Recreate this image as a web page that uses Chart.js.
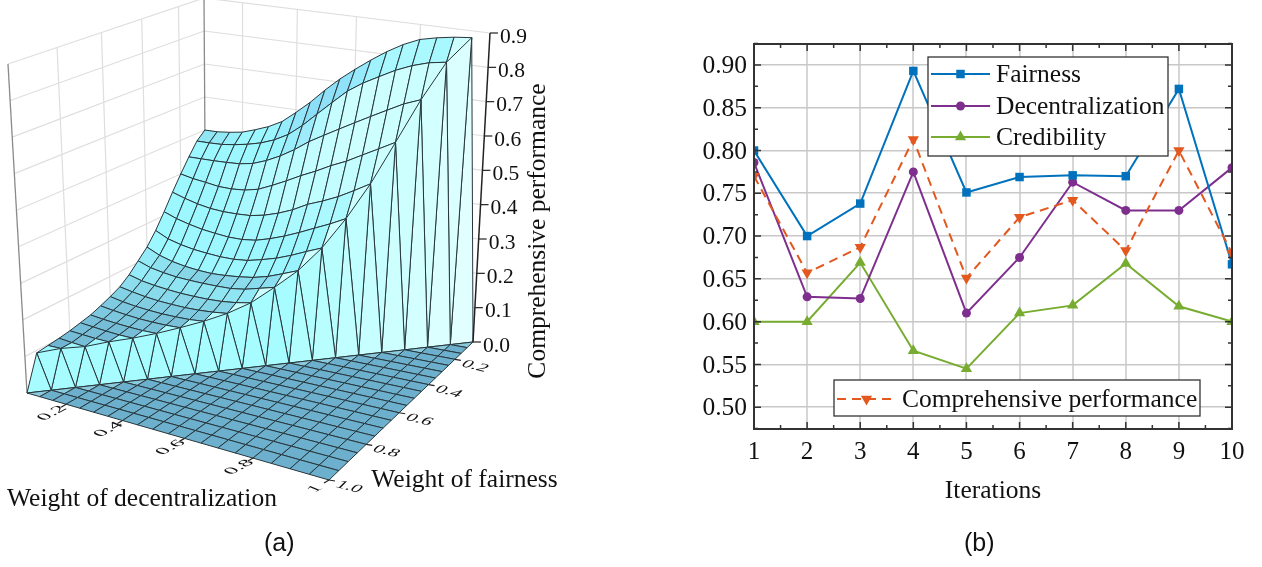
<!DOCTYPE html>
<html>
<head>
<meta charset="utf-8">
<script src="https://cdn.jsdelivr.net/npm/chart.js@4"></script>
<style>
  html, body { margin: 0; padding: 0; background: #fff; }
  body { position: relative; width: 1262px; height: 567px; overflow: hidden; }
  canvas { position: absolute; top: 0; }
  #surfaceChart { left: 0; }
  #lineChart { left: 650px; }
  .caption { position: absolute; top: 528px; font: 25px "Liberation Sans", sans-serif; color: #111; }
</style>
</head>
<body>
<canvas id="surfaceChart" width="620" height="567"></canvas>
<canvas id="lineChart" width="612" height="567"></canvas>
<div class="caption" style="left:264px">(a)</div>
<div class="caption" style="left:964px">(b)</div>
<script>
// panel (b) values
const iterations = ['1', '2', '3', '4', '5', '6', '7', '8', '9', '10'];
const fairness = [0.800, 0.700, 0.738, 0.893, 0.751, 0.769, 0.771, 0.770, 0.872, 0.667];
const decentralization = [0.786, 0.629, 0.627, 0.775, 0.610, 0.675, 0.763, 0.730, 0.730, 0.780];
const credibility = [0.600, 0.600, 0.669, 0.566, 0.545, 0.610, 0.619, 0.668, 0.618, 0.600];
const comprehensive = [0.770, 0.657, 0.687, 0.813, 0.651, 0.722, 0.742, 0.683, 0.800, 0.680];
const lineTicks = [0.50, 0.55, 0.60, 0.65, 0.70, 0.75, 0.80, 0.85, 0.90];

// panel (a) values: one row per fairness weight (0.05 .. 0.95), one column per decentralization weight
const weightStart = 0.05;
const weightStep = 0.05;
const surfaceRows = [
  [.500,.500,.504,.510,.523,.538,.559,.592,.628,.670,.709,.744,.777,.808,.835,.856,.867,.875,.880],
  [.477,.477,.478,.483,.490,.500,.515,.537,.570,.610,.650,.690,.720,.745,.770,.790,.805,.813],
  [.440,.440,.440,.441,.443,.450,.465,.485,.510,.540,.565,.590,.615,.640,.665,.690,.709],
  [.400,.392,.387,.381,.380,.383,.392,.410,.430,.452,.472,.495,.515,.540,.565,.591],
  [.357,.345,.335,.328,.325,.325,.327,.335,.348,.365,.388,.405,.425,.450,.477],
  [.311,.297,.287,.279,.274,.270,.270,.275,.287,.302,.320,.340,.360,.383],
  [.268,.250,.240,.233,.229,.226,.226,.230,.240,.252,.268,.287,.305],
  [.232,.215,.204,.197,.193,.191,.193,.197,.203,.214,.230,.247],
  [.205,.192,.185,.180,.178,.177,.177,.178,.184,.195,.206],
  [.178,.168,.162,.158,.155,.154,.154,.156,.161,.169],
  [.157,.150,.144,.140,.138,.137,.138,.141,.146],
  [.143,.136,.131,.128,.126,.126,.127,.131],
  [.131,.126,.122,.119,.118,.118,.120],
  [.120,.116,.113,.111,.110,.111],
  [.113,.110,.107,.105,.105],
  [.106,.104,.102,.102],
  [.101,.098,.096],
  [.097,.098],
  [.093]
];
const zTicks = [0.0, 0.1, 0.2, 0.3, 0.4, 0.5, 0.6, 0.7, 0.8, 0.9];
const decentralizationTicks = [0.2, 0.4, 0.6, 0.8, 1];
const fairnessTicks = [0.2, 0.4, 0.6, 0.8, 1.0];

const serif = '"Liberation Serif", serif';
const cells = 19;
const zMax = 0.9;

// camera: where the corners of the axis box land on the hidden scales
const floorCorners = { back: [206, 295], right: [473, 342], left: [27, 393], front: [329, 480] };
const topCorners = { back: [204, -2], right: [490, 33], left: [8, 64], front: [333, 128] };

function makeHomography(c) {
  const p00 = c.back, p10 = c.right, p01 = c.left, p11 = c.front;
  const dx1 = p10[0] - p11[0], dx2 = p01[0] - p11[0], sx = p00[0] - p10[0] + p11[0] - p01[0];
  const dy1 = p10[1] - p11[1], dy2 = p01[1] - p11[1], sy = p00[1] - p10[1] + p11[1] - p01[1];
  const den = dx1 * dy2 - dx2 * dy1;
  const g = (sx * dy2 - dx2 * sy) / den, h = (dx1 * sy - sx * dy1) / den;
  const a = p10[0] - p00[0] + g * p10[0], b = p01[0] - p00[0] + h * p01[0];
  const d = p10[1] - p00[1] + g * p10[1], e = p01[1] - p00[1] + h * p01[1];
  return (s, t) => {
    const w = g * s + h * t + 1;
    return [(a * s + b * t + p00[0]) / w, (d * s + e * t + p00[1]) / w];
  };
}
const floorMap = makeHomography(floorCorners);
const topMap = makeHomography(topCorners);

function project(s, t, z) {
  const lo = floorMap(s, t), hi = topMap(s, t), k = z / zMax;
  return { x: lo[0] + (hi[0] - lo[0]) * k, y: lo[1] + (hi[1] - lo[1]) * k };
}
function heightAt(i, j) {
  const row = surfaceRows[j];
  return row && row[i] !== undefined ? row[i] : 0;
}
function node(i, j) {
  return project(i / cells, j / cells, heightAt(i, j));
}
const weightToGrid = w => (w - weightStart) / weightStep / cells;

function mix(c1, c2, k) {
  k = Math.max(0, Math.min(1, k));
  return c1.map((v, n) => Math.round(v + (c2[n] - v) * k));
}
const rgb = c => `rgb(${c[0]},${c[1]},${c[2]})`;
const flatBlue = [109, 176, 206], cyan = [156, 247, 255], paleCyan = [205, 255, 255], skyBlue = [124, 203, 242];

function cellColor(i, j) {
  const fall = (heightAt(i, j) + heightAt(i + 1, j) - heightAt(i, j + 1) - heightAt(i + 1, j + 1)) / 2;
  const rise = (heightAt(i + 1, j) + heightAt(i + 1, j + 1) - heightAt(i, j) - heightAt(i, j + 1)) / 2;
  let c = fall < 0.03 ? mix(flatBlue, cyan, fall / 0.03) : mix(cyan, paleCyan, (fall - 0.05) / 0.05);
  c = mix(c, skyBlue, (rise - fall * 0.4) / 0.03);
  return rgb(c);
}

const meshLine = '#26363b';
const surfaceSets = [];
function addLine(points, color, width) {
  surfaceSets.push({ data: points, borderColor: color, borderWidth: width, showLine: true, fill: false,
    pointRadius: 0, clip: false, tension: 0 });
}
function addPolygon(points, color) {
  surfaceSets.push({ data: points.concat([points[0]]), borderColor: meshLine, borderWidth: 1, backgroundColor: color,
    showLine: true, fill: 'shape', pointRadius: 0, clip: false, tension: 0 });
}

// walls of the box
fairnessTicks.forEach(w => {
  if (w < 1) addLine([project(0, weightToGrid(w), 0), project(0, weightToGrid(w), zMax)], '#dedede', 1.2);
});
decentralizationTicks.forEach(w => {
  if (w < 1) addLine([project(weightToGrid(w), 0, 0), project(weightToGrid(w), 0, zMax)], '#dedede', 1.2);
});
zTicks.forEach(z => {
  addLine([project(0, 1, z), project(0, 0, z), project(1, 0, z)], '#dedede', 1.2);
});
addLine([project(0, 1, 0), project(0, 1, zMax)], '#8a8a8a', 1.3);
addLine([project(0, 0, 0), project(0, 0, zMax)], '#8a8a8a', 1.3);

// raised part of the surface, back to front
for (let sum = 0; sum <= 17; sum++) {
  for (let j = 0; j <= sum; j++) {
    const i = sum - j;
    addPolygon([node(i, j), node(i + 1, j), node(i + 1, j + 1), node(i, j + 1)], cellColor(i, j));
  }
}
// zig-zag side wall along the diagonal
function wallColor(i) {
  return rgb(i < 11 ? [166, 252, 255] : mix([178, 254, 255], [226, 255, 255], (i - 11) / 7));
}
for (let j = 0; j <= 18; j++) {
  const i = 18 - j;
  if (j > 0) addPolygon([node(i + 1, j - 1), node(i + 1, j), node(i, j)], wallColor(i));
  addPolygon([node(i, j), node(i + 1, j), node(i, j + 1)], wallColor(i));
}
// floor
for (let j = 0; j <= 18; j++) {
  const i = 18 - j;
  addPolygon([node(i + 1, j), node(i + 1, j + 1), node(i, j + 1)], '#8ccbdd');
}
for (let j = 1; j < cells; j++) {
  for (let i = cells - j; i < cells; i++) {
    addPolygon([node(i, j), node(i + 1, j), node(i + 1, j + 1), node(i, j + 1)], rgb(flatBlue));
  }
}
// box axis
addLine([project(1, 0, 0), project(1, 0, zMax)], '#222', 1.5);
surfaceSets.forEach((set, n) => { set.order = surfaceSets.length - n; });

const surfaceLabels = {
  id: 'surfaceLabels',
  afterDraw(chart) {
    const { ctx, scales: { x, y } } = chart;
    const px = p => [x.getPixelForValue(p.x), y.getPixelForValue(p.y)];
    ctx.save();
    ctx.fillStyle = '#111';
    ctx.strokeStyle = '#222';
    ctx.lineWidth = 1.2;

    // comprehensive performance ticks
    ctx.font = '21.5px ' + serif;
    ctx.textAlign = 'left';
    ctx.textBaseline = 'middle';
    zTicks.forEach(z => {
      const [a, b] = px(project(1, 0, z));
      ctx.beginPath();
      ctx.moveTo(a, b);
      ctx.lineTo(a + 8, b);
      ctx.stroke();
      ctx.fillText(z.toFixed(1), a + 10, b + 4);
    });

    // decentralization axis, label lies on the floor
    ctx.font = '20px ' + serif;
    ctx.textAlign = 'center';
    decentralizationTicks.forEach(w => {
      const [a, b] = px(project(weightToGrid(w), 1, 0));
      ctx.beginPath();
      ctx.moveTo(a, b);
      ctx.lineTo(a - 5, b + 3);
      ctx.stroke();
      ctx.save();
      ctx.transform(0.95, -0.5, 0.72, 0.3, a - 14, b + 9);
      ctx.fillText(String(w), 0, 0);
      ctx.restore();
    });
    // fairness axis
    fairnessTicks.forEach(w => {
      const [a, b] = px(project(1, weightToGrid(w), 0));
      ctx.beginPath();
      ctx.moveTo(a, b);
      ctx.lineTo(a + 6, b + 1);
      ctx.stroke();
      ctx.save();
      ctx.transform(0.98, 0.26, -0.5, 0.5, a + 20, b + 7);
      ctx.fillText(w.toFixed(1), 0, 0);
      ctx.restore();
    });

    // axis titles
    ctx.font = '25.5px ' + serif;
    ctx.textBaseline = 'alphabetic';
    ctx.fillText('Weight of decentralization', 142, 506);
    ctx.fillText('Weight of fairness', 464.5, 487);
    ctx.save();
    ctx.translate(545, 231);
    ctx.rotate(-Math.PI / 2);
    ctx.fillText('Comprehensive performance', 0, 0);
    ctx.restore();
    ctx.restore();
  }
};

new Chart(document.getElementById('surfaceChart'), {
  type: 'scatter',
  data: { datasets: surfaceSets },
  plugins: [surfaceLabels],
  options: {
    responsive: false,
    animation: false,
    events: [],
    layout: { padding: 0 },
    plugins: { legend: { display: false }, tooltip: { enabled: false } },
    scales: {
      x: { type: 'linear', display: false, min: 0, max: 620 },
      y: { type: 'linear', display: false, min: 0, max: 567, reverse: true }
    }
  }
});

// panel (b)
const legendGroups = [
  { box: [278, 57, 240, 99], rows: [[0, 74], [1, 106], [2, 137]], lineLeft: 281, lineRight: 340, textLeft: 346 },
  { box: [184, 380, 366, 36], rows: [[3, 399]], lineLeft: 187, lineRight: 246, textLeft: 252 }
];

const frameAndLegends = {
  id: 'frameAndLegends',
  afterDatasetsDraw(chart) {
    const { ctx, chartArea: { left, right, top, bottom }, scales: { x, y } } = chart;
    ctx.save();
    ctx.strokeStyle = '#333';
    ctx.lineWidth = 2;
    ctx.strokeRect(left, top, right - left, bottom - top);
    ctx.lineWidth = 1.5;
    ctx.beginPath();
    iterations.forEach((label, n) => {
      const major = x.getPixelForValue(n);
      ctx.moveTo(major, top); ctx.lineTo(major, top + 7);
      ctx.moveTo(major, bottom); ctx.lineTo(major, bottom - 7);
      if (n < iterations.length - 1) {
        const minor = (major + x.getPixelForValue(n + 1)) / 2;
        ctx.moveTo(minor, top); ctx.lineTo(minor, top + 4);
        ctx.moveTo(minor, bottom); ctx.lineTo(minor, bottom - 4);
      }
    });
    lineTicks.forEach(v => {
      const major = y.getPixelForValue(v);
      ctx.moveTo(left, major); ctx.lineTo(left + 7, major);
      ctx.moveTo(right, major); ctx.lineTo(right - 7, major);
      [v - 0.025, v + 0.025].forEach(m => {
        const minor = y.getPixelForValue(m);
        ctx.moveTo(left, minor); ctx.lineTo(left + 4, minor);
        ctx.moveTo(right, minor); ctx.lineTo(right - 4, minor);
      });
    });
    ctx.stroke();

    ctx.font = '25.5px ' + serif;
    ctx.textAlign = 'left';
    ctx.textBaseline = 'middle';
    legendGroups.forEach(g => {
      ctx.fillStyle = '#fff';
      ctx.fillRect(g.box[0], g.box[1], g.box[2], g.box[3]);
      ctx.strokeStyle = '#333';
      ctx.lineWidth = 1.3;
      ctx.strokeRect(g.box[0], g.box[1], g.box[2], g.box[3]);
      g.rows.forEach(([index, rowY]) => {
        const set = chart.data.datasets[index];
        ctx.strokeStyle = set.borderColor;
        ctx.lineWidth = set.borderWidth;
        ctx.setLineDash(set.borderDash || []);
        ctx.beginPath();
        ctx.moveTo(g.lineLeft, rowY);
        ctx.lineTo(g.lineRight, rowY);
        ctx.stroke();
        ctx.setLineDash([]);
        ctx.fillStyle = set.pointBackgroundColor;
        Chart.helpers.drawPoint(ctx, {
          pointStyle: set.pointStyle, radius: set.pointRadius, rotation: set.pointRotation || 0, borderWidth: 0
        }, (g.lineLeft + g.lineRight) / 2, rowY);
        ctx.fillStyle = '#111';
        ctx.fillText(set.label, g.textLeft, rowY + 1);
      });
    });
    ctx.restore();
  }
};

function lineSet(label, data, color, pointStyle, pointRadius, extra) {
  return Object.assign({
    label, data, borderColor: color, borderWidth: 2, pointStyle, pointRadius,
    pointBackgroundColor: color, pointBorderColor: color, pointBorderWidth: 0,
    tension: 0, fill: false, clip: 0
  }, extra);
}

new Chart(document.getElementById('lineChart'), {
  type: 'line',
  data: {
    labels: iterations,
    datasets: [
      lineSet('Fairness', fairness, '#0072BD', 'rect', 6, { order: 2 }),
      lineSet('Decentralization', decentralization, '#7E2F8E', 'circle', 4.5, { order: 3 }),
      lineSet('Credibility', credibility, '#77AC30', 'triangle', 6.5, { order: 4 }),
      lineSet('Comprehensive performance', comprehensive, '#E2581E', 'triangle', 6.5,
        { order: 1, borderDash: [9, 6], pointRotation: 180 })
    ]
  },
  plugins: [frameAndLegends],
  options: {
    responsive: false,
    animation: false,
    events: [],
    layout: { padding: { top: 44, right: 30, left: 0, bottom: 0 } },
    plugins: { legend: { display: false }, tooltip: { enabled: false } },
    scales: {
      x: {
        grid: { color: '#d6d6d6', lineWidth: 2, drawTicks: false },
        border: { display: false },
        ticks: { font: { family: serif, size: 25 }, color: '#111', padding: 8, maxRotation: 0, autoSkip: false },
        title: { display: true, text: 'Iterations', font: { family: serif, size: 25.5 }, color: '#111', padding: { top: 0, bottom: 60 } },
        afterFit(scale) { scale.height = 138; }
      },
      y: {
        min: 0.4745,
        max: 0.9245,
        afterBuildTicks(scale) { scale.ticks = lineTicks.map(value => ({ value })); },
        grid: { color: '#c8c8c8', lineWidth: 1.6, drawTicks: false },
        border: { display: false },
        ticks: { font: { family: serif, size: 25.5 }, color: '#111', padding: 7, labelOffset: 1.5, callback: v => v.toFixed(2) },
        afterFit(scale) { scale.width = 104; }
      }
    }
  }
});
</script>
</body>
</html>
